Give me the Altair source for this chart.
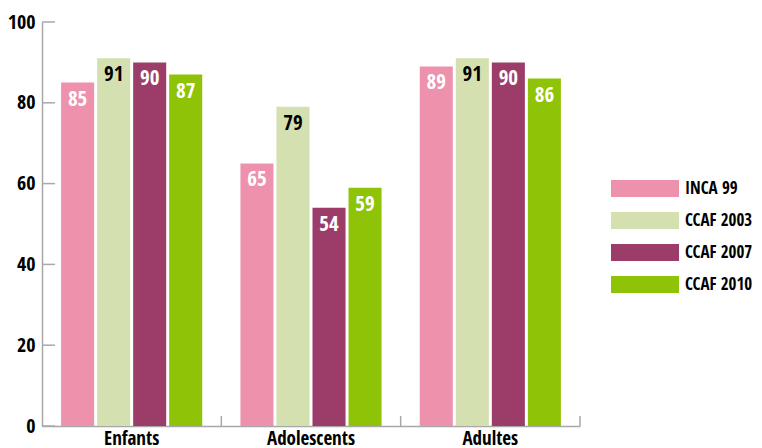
import altair as alt
import pandas as pd

categories = ["Enfants", "Adolescents", "Adultes"]
series = ["INCA 99", "CCAF 2003", "CCAF 2007", "CCAF 2010"]
enfants = [85, 91, 90, 87]
adolescents = [65, 79, 54, 59]
adultes = [89, 91, 90, 86]
colors = ["#EE91AD", "#D4E0B0", "#9B3D68", "#8FC307"]
y_ticks = [0, 20, 40, 60, 80, 100]

rows = []
for cat, vals in zip(categories, [enfants, adolescents, adultes]):
    for s, v in zip(series, vals):
        rows.append({"cat": cat, "series": s, "value": v})
df = pd.DataFrame(rows)
ticks_df = pd.DataFrame({"t": y_ticks})
cats_df = pd.DataFrame({"cat": categories})

FONT = "Open Sans Condensed, DejaVu Sans Condensed, sans-serif"
W, H = 538, 404

x_enc = alt.X("cat:N", sort=categories, title=None,
              scale=alt.Scale(paddingInner=0, paddingOuter=0),
              axis=alt.Axis(labelAngle=0, labelFontSize=19, labelFont=FONT, labelColor="#000",
                            labelFontWeight="bold",
                            labelPadding=3, ticks=False, domainColor="#a8a8a8", domainWidth=1.5))
xoff = alt.XOffset("series:N", sort=series,
                   scale=alt.Scale(paddingInner=0.083, paddingOuter=0.53))
y_enc = alt.Y("value:Q", title=None,
              scale=alt.Scale(domain=[0, 100], nice=False),
              axis=alt.Axis(values=y_ticks, tickSize=0, labelPadding=7, labelFontSize=20,
                            labelFont=FONT, labelColor="#000", labelFontWeight="bold", grid=False,
                            domainColor="#a8a8a8", domainWidth=1.5))

bars = alt.Chart(df).mark_bar().encode(
    x=x_enc, xOffset=xoff, y=y_enc,
    color=alt.Color("series:N", sort=series,
                    scale=alt.Scale(domain=series, range=colors),
                    legend=alt.Legend(title=None, orient="none", legendX=569, legendY=158,
                                      symbolType="M-1,-0.25H1V0.25H-1Z", symbolSize=4624,
                                      symbolStrokeWidth=0, symbolOpacity=1, clipHeight=17,
                                      labelFontSize=17, labelFont=FONT, labelColor="#000",
                                      labelFontWeight="bold",
                                      labelOffset=6, rowPadding=14)),
)

labels = alt.Chart(df).mark_text(baseline="top", dy=6, fontSize=21, font=FONT, fontWeight="bold").encode(
    x=alt.X("cat:N", sort=categories),
    xOffset=alt.XOffset("series:N", sort=series),
    y="value:Q",
    text="value:Q",
    color=alt.condition(alt.datum.series == "CCAF 2003", alt.value("#000"), alt.value("#fff")),
)

ytick_rules = alt.Chart(ticks_df).mark_rule(color="#a8a8a8", strokeWidth=1.5).encode(
    y="t:Q", x=alt.value(0), x2=alt.value(13)
)

xtick_rules = alt.Chart(cats_df).mark_rule(color="#a8a8a8", strokeWidth=1.5).encode(
    x=alt.X("cat:N", sort=categories, bandPosition=1),
    y=alt.value(H - 10), y2=alt.value(H)
)

chart = alt.layer(bars, labels, ytick_rules, xtick_rules).resolve_scale(color="independent").properties(
    width=W, height=H,
    autosize=alt.AutoSizeParams(type="none"),
    padding={"left": 34, "top": 14, "right": 174, "bottom": 22},
).configure(font=FONT).configure_view(stroke=None)

chart.save("out.html", embed_options={"renderer": "svg", "actions": False})
